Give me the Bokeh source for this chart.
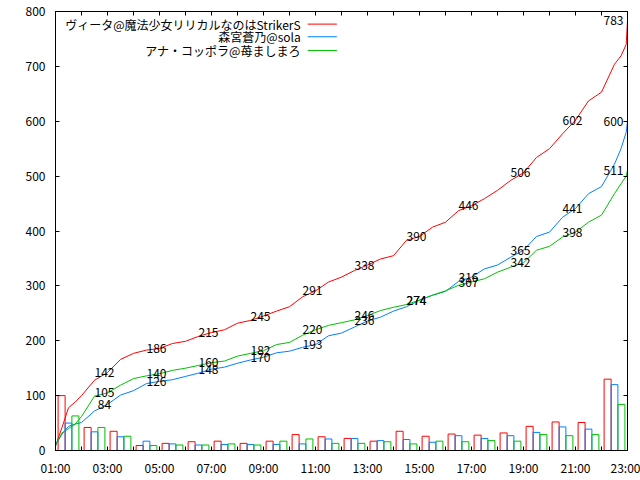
from bokeh.plotting import figure
from bokeh.models import LinearAxis, FixedTicker, Range1d, CustomJSTickFormatter
from bokeh.core.properties import value
from bokeh.embed import file_html
from bokeh.resources import INLINE
import numpy as np

FONT = "Noto Sans CJK JP"
RED = "#ff0000"
BLUE = "#0080ff"
GREEN = "#00c000"

# ---- data ----
series_names = ["ヴィータ@魔法少女リリカルなのはStrikerS", "森宮蒼乃@sola", "アナ・コッポラ@苺ましまろ"]

# hourly post counts (hour starting at h:00)
bar_hours = [1, 2, 3, 4, 5, 6, 7, 8, 9, 10, 11, 12, 13, 14, 15, 16, 17, 18, 19, 20, 21, 22]
red_counts = [100, 42, 35, 9, 13, 16, 17, 13, 17, 29, 25, 22, 17, 35, 26, 30, 28, 32, 44, 52, 51, 130]
blue_counts = [50, 34, 25, 17, 12, 10, 11, 11, 11, 12, 21, 22, 18, 20, 15, 27, 22, 27, 33, 43, 39, 120]
green_counts = [63, 42, 26, 9, 10, 10, 12, 10, 17, 21, 13, 13, 16, 12, 17, 16, 18, 17, 29, 27, 29, 84]

# cumulative curves (time in hours)
times = [1.0, 1.25, 1.5, 1.75, 2.0, 2.5, 3.0, 3.5, 4.0, 4.5, 5.0, 5.5, 6.0, 6.5, 7.0, 7.5,
         8.0, 8.5, 9.0, 9.5, 10.0, 10.5, 11.0, 11.5, 12.0, 12.5, 13.0, 13.5, 14.0, 14.5,
         15.0, 15.5, 16.0, 16.5, 17.0, 17.5, 18.0, 18.5, 19.0, 19.5, 20.0, 20.5, 21.0,
         21.5, 22.0, 22.5, 22.75, 22.95, 23.0]
red_cum = [8, 42, 78, 88, 100, 128, 142, 166, 177, 183, 186, 195, 199, 208, 215, 220, 232,
           237, 245, 254, 262, 280, 291, 307, 316, 328, 338, 349, 355, 383, 390, 407, 416,
           437, 446, 459, 474, 492, 506, 534, 550, 577, 602, 637, 653, 704, 719, 740, 783]
blue_cum = [9, 30, 44, 48, 51, 72, 84, 101, 109, 122, 126, 129, 135, 141, 148, 152, 159,
            165, 170, 178, 181, 188, 193, 209, 214, 225, 236, 243, 254, 262, 274, 283, 290,
            308, 316, 331, 338, 352, 365, 390, 398, 425, 441, 468, 481, 522, 550, 580, 600]
green_cum = [10, 32, 40, 48, 62, 99, 105, 119, 131, 136, 140, 146, 150, 155, 160, 163, 172,
             177, 182, 193, 197, 210, 220, 228, 233, 238, 246, 255, 261, 266, 274, 283, 291,
             301, 307, 313, 325, 334, 342, 365, 372, 389, 398, 416, 429, 468, 486, 500, 511]

# value labels every two hours
label_hours = [3, 5, 7, 9, 11, 13, 15, 17, 19, 21, 23]
red_labels = [142, 186, 215, 245, 291, 338, 390, 446, 506, 602, 783]
blue_labels = [84, 126, 148, 170, 193, 236, 274, 316, 365, 441, 600]
green_labels = [105, 140, 160, 182, 220, 246, 274, 307, 342, 398, 511]

x_major = [1, 3, 5, 7, 9, 11, 13, 15, 17, 19, 21, 23]
x_minor = [2, 4, 6, 8, 10, 12, 14, 16, 18, 20, 22]
x_tick_labels = ["01:00", "03:00", "05:00", "07:00", "09:00", "11:00", "13:00", "15:00",
                 "17:00", "19:00", "21:00", "23:00"]
y_ticks = [0, 100, 200, 300, 400, 500, 600, 700, 800]

# ---- figure ----
p = figure(width=640, height=480, x_range=Range1d(1, 23), y_range=Range1d(0, 800),
           output_backend="svg", toolbar_location=None,
           min_border_left=55, min_border_right=13, min_border_top=11, min_border_bottom=30)
p.grid.visible = False
p.outline_line_color = "black"
p.outline_line_width = 1
p.background_fill_color = "white"
p.border_fill_color = "white"


def style_axis(ax):
    ax.axis_line_color = "black"
    ax.major_tick_line_color = "black"
    ax.minor_tick_line_color = "black"
    ax.major_tick_in = 4
    ax.major_tick_out = 0
    ax.minor_tick_in = 4
    ax.minor_tick_out = 0
    ax.major_label_text_font = FONT
    ax.major_label_text_font_size = "12px"
    ax.major_label_text_color = "black"


xa = p.xaxis[0]
xa.ticker = FixedTicker(ticks=x_major, minor_ticks=x_minor)
xa.major_label_overrides = {h: s for h, s in zip(x_major, x_tick_labels)}
style_axis(xa)
xa.major_label_standoff = 8

ya = p.yaxis[0]
ya.ticker = FixedTicker(ticks=y_ticks, minor_ticks=[])
style_axis(ya)
ya.major_label_standoff = 10

empty = CustomJSTickFormatter(code="return '';")
top = LinearAxis(ticker=FixedTicker(ticks=x_major, minor_ticks=x_minor), formatter=empty)
style_axis(top)
top.major_label_standoff = 0
top.major_label_text_font_size = "1px"
p.add_layout(top, "above")

right = LinearAxis(ticker=FixedTicker(ticks=y_ticks, minor_ticks=[]), formatter=empty)
style_axis(right)
right.major_label_standoff = 0
right.major_label_text_font_size = "1px"
p.add_layout(right, "right")

# ---- bars ----
h = np.array(bar_hours, dtype=float)
p.quad(left=h + 0.1, right=h + 0.37, bottom=0, top=red_counts,
       fill_color=None, line_color=RED, line_width=1)
p.quad(left=h + 0.37, right=h + 0.63, bottom=0, top=blue_counts,
       fill_color=None, line_color=BLUE, line_width=1)
p.quad(left=h + 0.63, right=h + 0.9, bottom=0, top=green_counts,
       fill_color=None, line_color=GREEN, line_width=1)

# ---- cumulative lines ----
p.line(times, red_cum, line_color=RED, line_width=1)
p.line(times, blue_cum, line_color=BLUE, line_width=1)
p.line(times, green_cum, line_color=GREEN, line_width=1)

# ---- value labels ----
for vals in (red_labels, blue_labels, green_labels):
    p.text(x=label_hours[:-1], y=vals[:-1], text=[str(v) for v in vals[:-1]],
           text_align="center", text_baseline="middle", x_offset=-3,
           text_font=value(FONT), text_font_size="12px", text_color="black")
    p.text(x=label_hours[-1:], y=vals[-1:], text=[str(v) for v in vals[-1:]],
           text_align="center", text_baseline="middle", x_offset=-14,
           text_font=value(FONT), text_font_size="12px", text_color="black")

# ---- legend (gnuplot style: text right-aligned, sample to the right) ----
leg_text_x = 10.43
leg_line_x0, leg_line_x1 = 10.70, 11.82
leg_y = [777, 754, 729]
p.text(x=[leg_text_x] * 3, y=leg_y, text=series_names, text_align="right",
       text_baseline="middle", text_font=value(FONT), text_font_size="12px",
       text_color="black")
for yy, c in zip(leg_y, (RED, BLUE, GREEN)):
    p.segment(x0=[leg_line_x0], y0=[yy], x1=[leg_line_x1], y1=[yy], line_color=c, line_width=1)

open("out.html", "w").write(file_html(p, INLINE))
